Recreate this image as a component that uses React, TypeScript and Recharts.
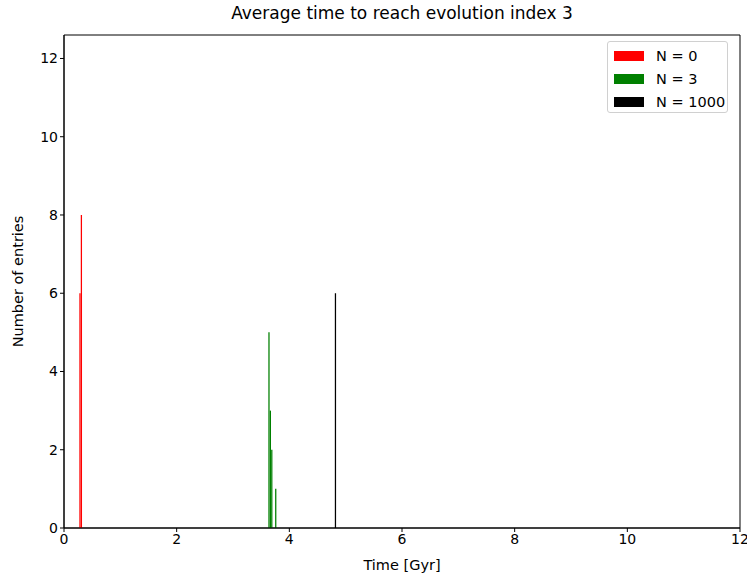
import React from 'react';
import { ComposedChart, Bar, XAxis, YAxis, ReferenceArea } from 'recharts';

const RED_TIME = [0.285, 0.31];
const RED_COUNT = [6, 8];
const GREEN_TIME = [3.64, 3.665, 3.69, 3.76];
const GREEN_COUNT = [5, 3, 2, 1];
const BLACK_TIME = [4.82];
const BLACK_COUNT = [6];

const X_TICKS = [0, 2, 4, 6, 8, 10, 12];
const Y_TICKS = [0, 2, 4, 6, 8, 10, 12];
const Y_MAX = 12.6;

const SERIES = [
  { key: 'n0', label: 'N = 0', color: '#ff0000', times: RED_TIME, counts: RED_COUNT },
  { key: 'n3', label: 'N = 3', color: '#008000', times: GREEN_TIME, counts: GREEN_COUNT },
  { key: 'n1000', label: 'N = 1000', color: '#000000', times: BLACK_TIME, counts: BLACK_COUNT },
];

const FONT = '"DejaVu Sans", sans-serif';

// one row per bin, only one series filled per row
const rows: Record<string, any>[] = [];
SERIES.forEach((s) => {
  s.times.forEach((t, i) => {
    rows.push({ t, [s.key]: s.counts[i] });
  });
});
rows.sort((a, b) => a.t - b.t);

const tick = { fill: '#000', fontSize: 14, fontFamily: FONT };

function LegendBox() {
  return (
    <div
      style={{
        position: 'absolute',
        left: 607,
        top: 41,
        width: 121,
        height: 72,
        boxSizing: 'border-box',
        border: '1px solid #d0d0d0',
        borderRadius: 3,
        background: '#fff',
        padding: '2px 0 0 6px',
        fontFamily: FONT,
        fontSize: 14.5,
        color: '#000',
      }}
    >
      {SERIES.map((s) => (
        <div key={s.key} style={{ display: 'flex', alignItems: 'center', height: 23 }}>
          <div style={{ width: 30, height: 10, background: s.color, marginRight: 12 }} />
          <span>{s.label}</span>
        </div>
      ))}
    </div>
  );
}

export default function App() {
  return (
    <div style={{ position: 'absolute', left: 0, top: 0, width: 747, height: 574, background: '#fff' }}>
      <div
        style={{
          position: 'absolute',
          top: 3,
          left: 64,
          width: 676,
          textAlign: 'center',
          fontFamily: FONT,
          fontSize: 17,
          color: '#000',
        }}
      >
        Average time to reach evolution index 3
      </div>
      <ComposedChart
        width={747}
        height={574}
        data={rows}
        margin={{ top: 35, right: 7, bottom: 16, left: 34 }}
      >
        <XAxis
          type="number"
          dataKey="t"
          domain={[0, 12]}
          ticks={X_TICKS}
          allowDataOverflow
          height={30}
          tick={tick}
          tickSize={4}
          tickLine={{ stroke: '#000' }}
          axisLine={{ stroke: '#000' }}
          label={{ value: 'Time [Gyr]', position: 'insideBottom', offset: -12, fill: '#000', fontSize: 14.5, fontFamily: FONT }}
        />
        <YAxis
          type="number"
          domain={[0, Y_MAX]}
          ticks={Y_TICKS}
          allowDataOverflow
          width={30}
          tick={tick}
          tickSize={4}
          tickLine={{ stroke: '#000' }}
          axisLine={{ stroke: '#000' }}
          label={{
            value: 'Number of entries',
            angle: -90,
            position: 'insideLeft',
            offset: -16,
            style: { textAnchor: 'middle' },
            fill: '#000',
            fontSize: 14.5,
            fontFamily: FONT,
          }}
        />
        {SERIES.map((s) => (
          <Bar
            key={s.key}
            dataKey={s.key}
            stackId="h"
            fill={s.color}
            barSize={2}
            isAnimationActive={false}
          />
        ))}
        <ReferenceArea x1={0} x2={12} y1={0} y2={Y_MAX} fill="none" stroke="#000" strokeWidth={1} ifOverflow="visible" />
      </ComposedChart>
      <LegendBox />
    </div>
  );
}
